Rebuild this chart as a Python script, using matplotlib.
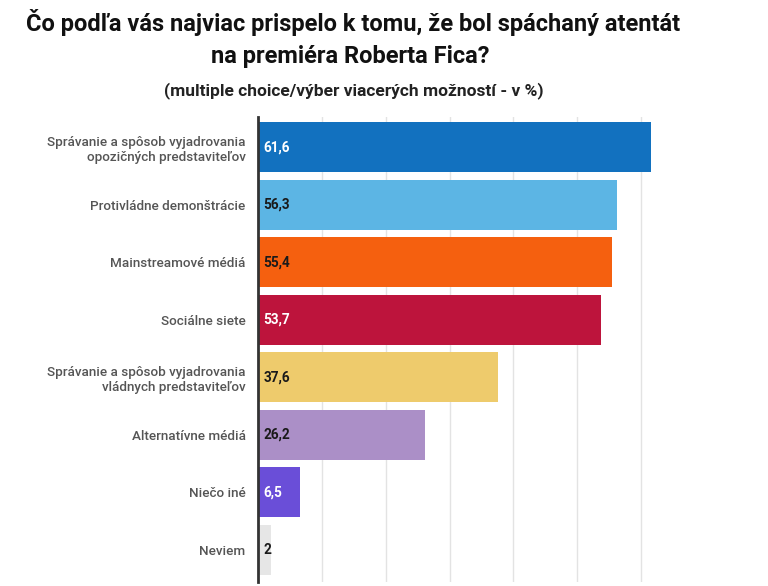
import matplotlib.pyplot as plt

# data
categories = [
    "Správanie a spôsob vyjadrovania\nopozičných predstaviteľov",
    "Protivládne demonštrácie",
    "Mainstreamové médiá",
    "Sociálne siete",
    "Správanie a spôsob vyjadrovania\nvládnych predstaviteľov",
    "Alternatívne médiá",
    "Niečo iné",
    "Neviem",
]
values = [61.6, 56.3, 55.4, 53.7, 37.6, 26.2, 6.5, 2]
value_labels = ["61,6", "56,3", "55,4", "53,7", "37,6", "26,2", "6,5", "2"]
bar_colors = ["#1271bf", "#5cb5e4", "#f5600f", "#bd143c",
              "#eecb6c", "#ab8fc7", "#6a4ed8", "#e6e6e6"]
label_colors = ["white", "#1a1a1a", "#1a1a1a", "white",
                "#1a1a1a", "#1a1a1a", "white", "#1a1a1a"]

plt.rcParams['font.family'] = ['Roboto', 'DejaVu Sans']

fig = plt.figure(figsize=(7.68, 5.86), dpi=100)
ax = fig.add_axes([258 / 768, 4 / 586, 415 / 768, 465 / 586])

ypos = list(range(len(categories)))
ax.barh(ypos, values, height=0.87, color=bar_colors, zorder=2)
for y, v, lab, c in zip(ypos, values, value_labels, label_colors):
    ax.text(0.9, y, lab, va='center', ha='left', fontsize=9.8,
            fontweight='bold', color=c, zorder=3)

ax.set_xlim(0, 65)
ax.set_ylim(7.56, -0.53)
ax.set_xticks([10, 20, 30, 40, 50, 60])
ax.xaxis.grid(True, color='#e3e3e3', linewidth=1, zorder=0)
ax.tick_params(axis='x', length=0, labelbottom=False)
ax.tick_params(axis='y', length=0, pad=9)
ax.set_yticks(ypos)
ax.set_yticklabels(categories, fontsize=9.7, color='#555555', fontweight='medium',
                   linespacing=1.25)
for s in ['top', 'right', 'bottom']:
    ax.spines[s].set_visible(False)
ax.spines['left'].set_color('#333333')
ax.spines['left'].set_linewidth(2)
ax.spines['left'].set_zorder(4)

fig.text(353 / 768, 1 - 22 / 586, "Čo podľa vás najviac prispelo k tomu, že bol spáchaný atentát",
         ha='center', va='center', fontsize=17, fontweight='bold', color='#111111')
fig.text(350 / 768, 1 - 56 / 586, "na premiéra Roberta Fica?",
         ha='center', va='center', fontsize=17, fontweight='bold', color='#111111')
fig.text(354 / 768, 1 - 91 / 586, "(multiple choice/výber viacerých možností - v %)",
         ha='center', va='center', fontsize=12.5, fontweight='bold', color='#222222')

fig.savefig('out.png', dpi=100)
